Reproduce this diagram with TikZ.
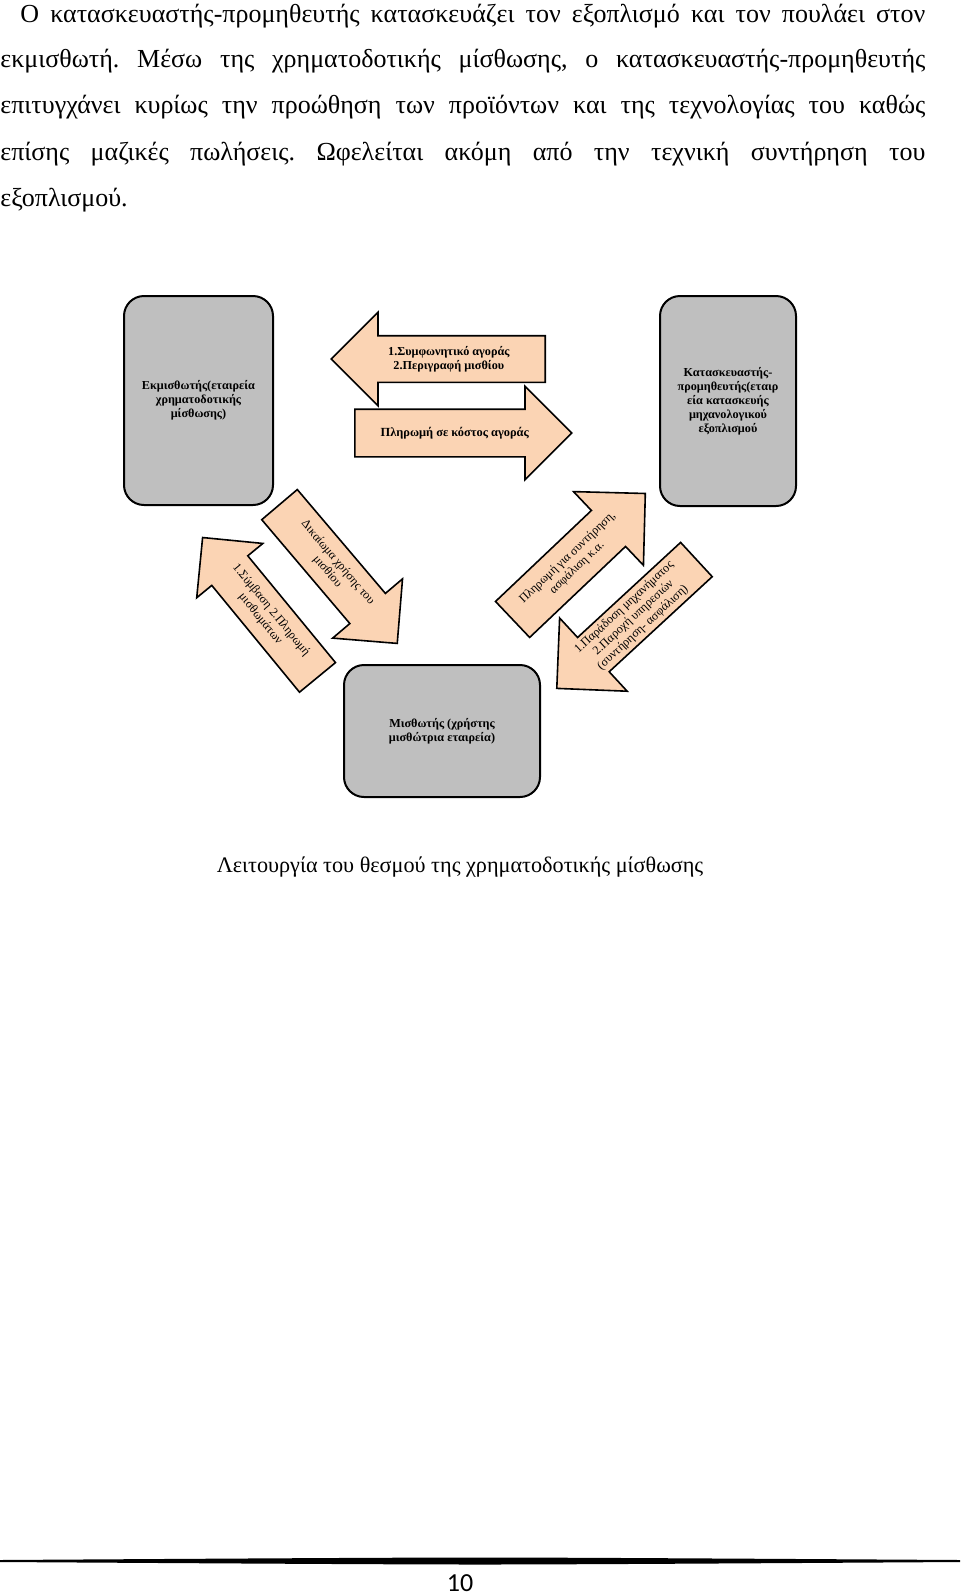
\documentclass[tikz,border=0pt]{standalone}
\usepackage{fontspec}
\setmainfont{Liberation Serif}
\newfontfamily\pagenumfont{Carlito}
\usepackage{tikz}
\usetikzlibrary{shapes.arrows,calc}

\definecolor{boxgray}{RGB}{191,191,191}
\definecolor{arrowtan}{RGB}{251,212,180}

\frenchspacing
\begin{document}
\begin{tikzpicture}[x=0.5pt, y=-0.5pt,
  every node/.style={inner sep=0pt},
  textline/.style={anchor=base west, font=\fontsize{13}{15}\selectfont},
  party/.style={draw, line width=1pt, rounded corners=10pt, fill=boxgray, align=center,
    font=\fontsize{6.1}{7}\selectfont\bfseries},
  blockarrow/.style={single arrow, draw, line width=0.8pt, fill=arrowtan, anchor=tail,
    inner xsep=0pt},
  arrowtext/.style={align=center, font=\fontsize{6.1}{6.9}\selectfont},
]
\useasboundingbox (0,0) rectangle (960,1596);

% === Paragraph above the figure ===
\node[textline] (line1) at (20,22) {\makebox[452.5pt][s]{Ο κατασκευαστής-προμηθευτής κατασκευάζει τον εξοπλισμό και τον πουλάει στον}};
\node[textline] (line2) at (0,67) {\makebox[462.5pt][s]{εκμισθωτή. Μέσω της χρηματοδοτικής μίσθωσης, ο κατασκευαστής-προμηθευτής}};
\node[textline] (line3) at (0,113) {\makebox[462.5pt][s]{επιτυγχάνει κυρίως την προώθηση των προϊόντων και της τεχνολογίας του καθώς}};
\node[textline] (line4) at (0,160) {\makebox[462.5pt][s]{επίσης μαζικές πωλήσεις. Ωφελείται ακόμη από την τεχνική συντήρηση του}};
\node[textline] (line5) at (0,206) {εξοπλισμού.};

% === Parties ===
\node[party, minimum width=74.5pt, minimum height=104.5pt] (lessor) at (198.5,400.5)
  {Εκμισθωτής(εταιρεία\\χρηματοδοτικής\\μίσθωσης)};
\node[party, minimum width=68pt, minimum height=105pt] (maker) at (728,401)
  {Κατασκευαστής-\\προμηθευτής(εταιρ\\εία κατασκευής\\μηχανολογικού\\εξοπλισμού};
\node[party, minimum width=98pt, minimum height=66pt] (lessee) at (442,731)
  {Μισθωτής (χρήστης\\μισθώτρια εταιρεία)};

% === Block arrows between lessor and maker ===
\node[blockarrow, shape border rotate=180, minimum height=107pt, minimum width=46pt,
  inner ysep=11.25pt, single arrow head extend=11.75pt] (order) at (546,359) {};
\node[blockarrow, minimum height=108.5pt, minimum width=46pt,
  inner ysep=11.5pt, single arrow head extend=11.5pt] (price) at (354,433) {};

\node[arrowtext, font=\fontsize{6.1}{6.9}\selectfont\bfseries] (order-text)
  at ($(order.tail)!0.45!(order.tip)$) {1.Συμφωνητικό αγοράς\\2.Περιγραφή μισθίου};
\node[arrowtext, font=\fontsize{6.2}{6.9}\selectfont\bfseries] (price-text)
  at ($(price.tail)!0.46!(price.tip)$) {Πληρωμή σε κόστος αγοράς};

% === Block arrows between lessor and lessee ===
\node[blockarrow, rotate=-50.6, shape border rotate=180, minimum height=90.5pt, minimum width=42pt,
  inner ysep=11.25pt, single arrow head extend=9.75pt] (rent) at (318,678) {};
\node[blockarrow, rotate=-49.7, minimum height=91pt, minimum width=45pt,
  inner ysep=11.25pt, single arrow head extend=11.25pt] (use) at (279,504) {};

\node[arrowtext, rotate=-50.6] (rent-text) at ($(rent.tail)!0.45!(rent.tip)$)
  {1.Σύμβαση 2.Πληρωμή\\μισθωμάτων};
\node[arrowtext, rotate=-49.7] (use-text) at ($(use.tail)!0.45!(use.tip)$)
  {Δικαίωμα χρήσης του\\μισθίου};

% === Block arrows between lessee and maker ===
\node[blockarrow, rotate=43.5, minimum height=91.5pt, minimum width=50pt,
  inner ysep=12pt, single arrow head extend=13pt] (service) at (512,620) {};
\node[blockarrow, rotate=42.7, shape border rotate=180, minimum height=95pt, minimum width=49pt,
  inner ysep=11.25pt, single arrow head extend=13.25pt] (delivery) at (697,559) {};

\node[arrowtext, rotate=43.5] (service-text) at ($(service.tail)!0.45!(service.tip)$)
  {Πληρωμή για συντήρηση,\\ασφάλιση κ.α.};
\node[arrowtext, rotate=42.7] (delivery-text) at ($(delivery.tail)!0.45!(delivery.tip)$)
  {1.Παράδοση μηχανήματος\\2.Παροχή υπηρεσιών\\(συντήρηση- ασφάλιση)};

% === Caption ===
\node[anchor=base, font=\fontsize{11.1}{13}\selectfont] (caption) at (460,872)
  {Λειτουργία του θεσμού της χρηματοδοτικής μίσθωσης};

% === Footer ===
\fill (0,1560) .. controls (240,1558.5) and (400,1557.5) .. (480,1557.5)
  .. controls (560,1557.5) and (720,1558.5) .. (960,1560) -- (960,1562)
  .. controls (720,1563.5) and (560,1564.5) .. (480,1564.5)
  .. controls (400,1564.5) and (240,1563.5) .. (0,1562) -- cycle;
\node[anchor=base, font=\pagenumfont\fontsize{13}{15}\selectfont] (pagenum) at (460,1591) {10};
\end{tikzpicture}
\end{document}
